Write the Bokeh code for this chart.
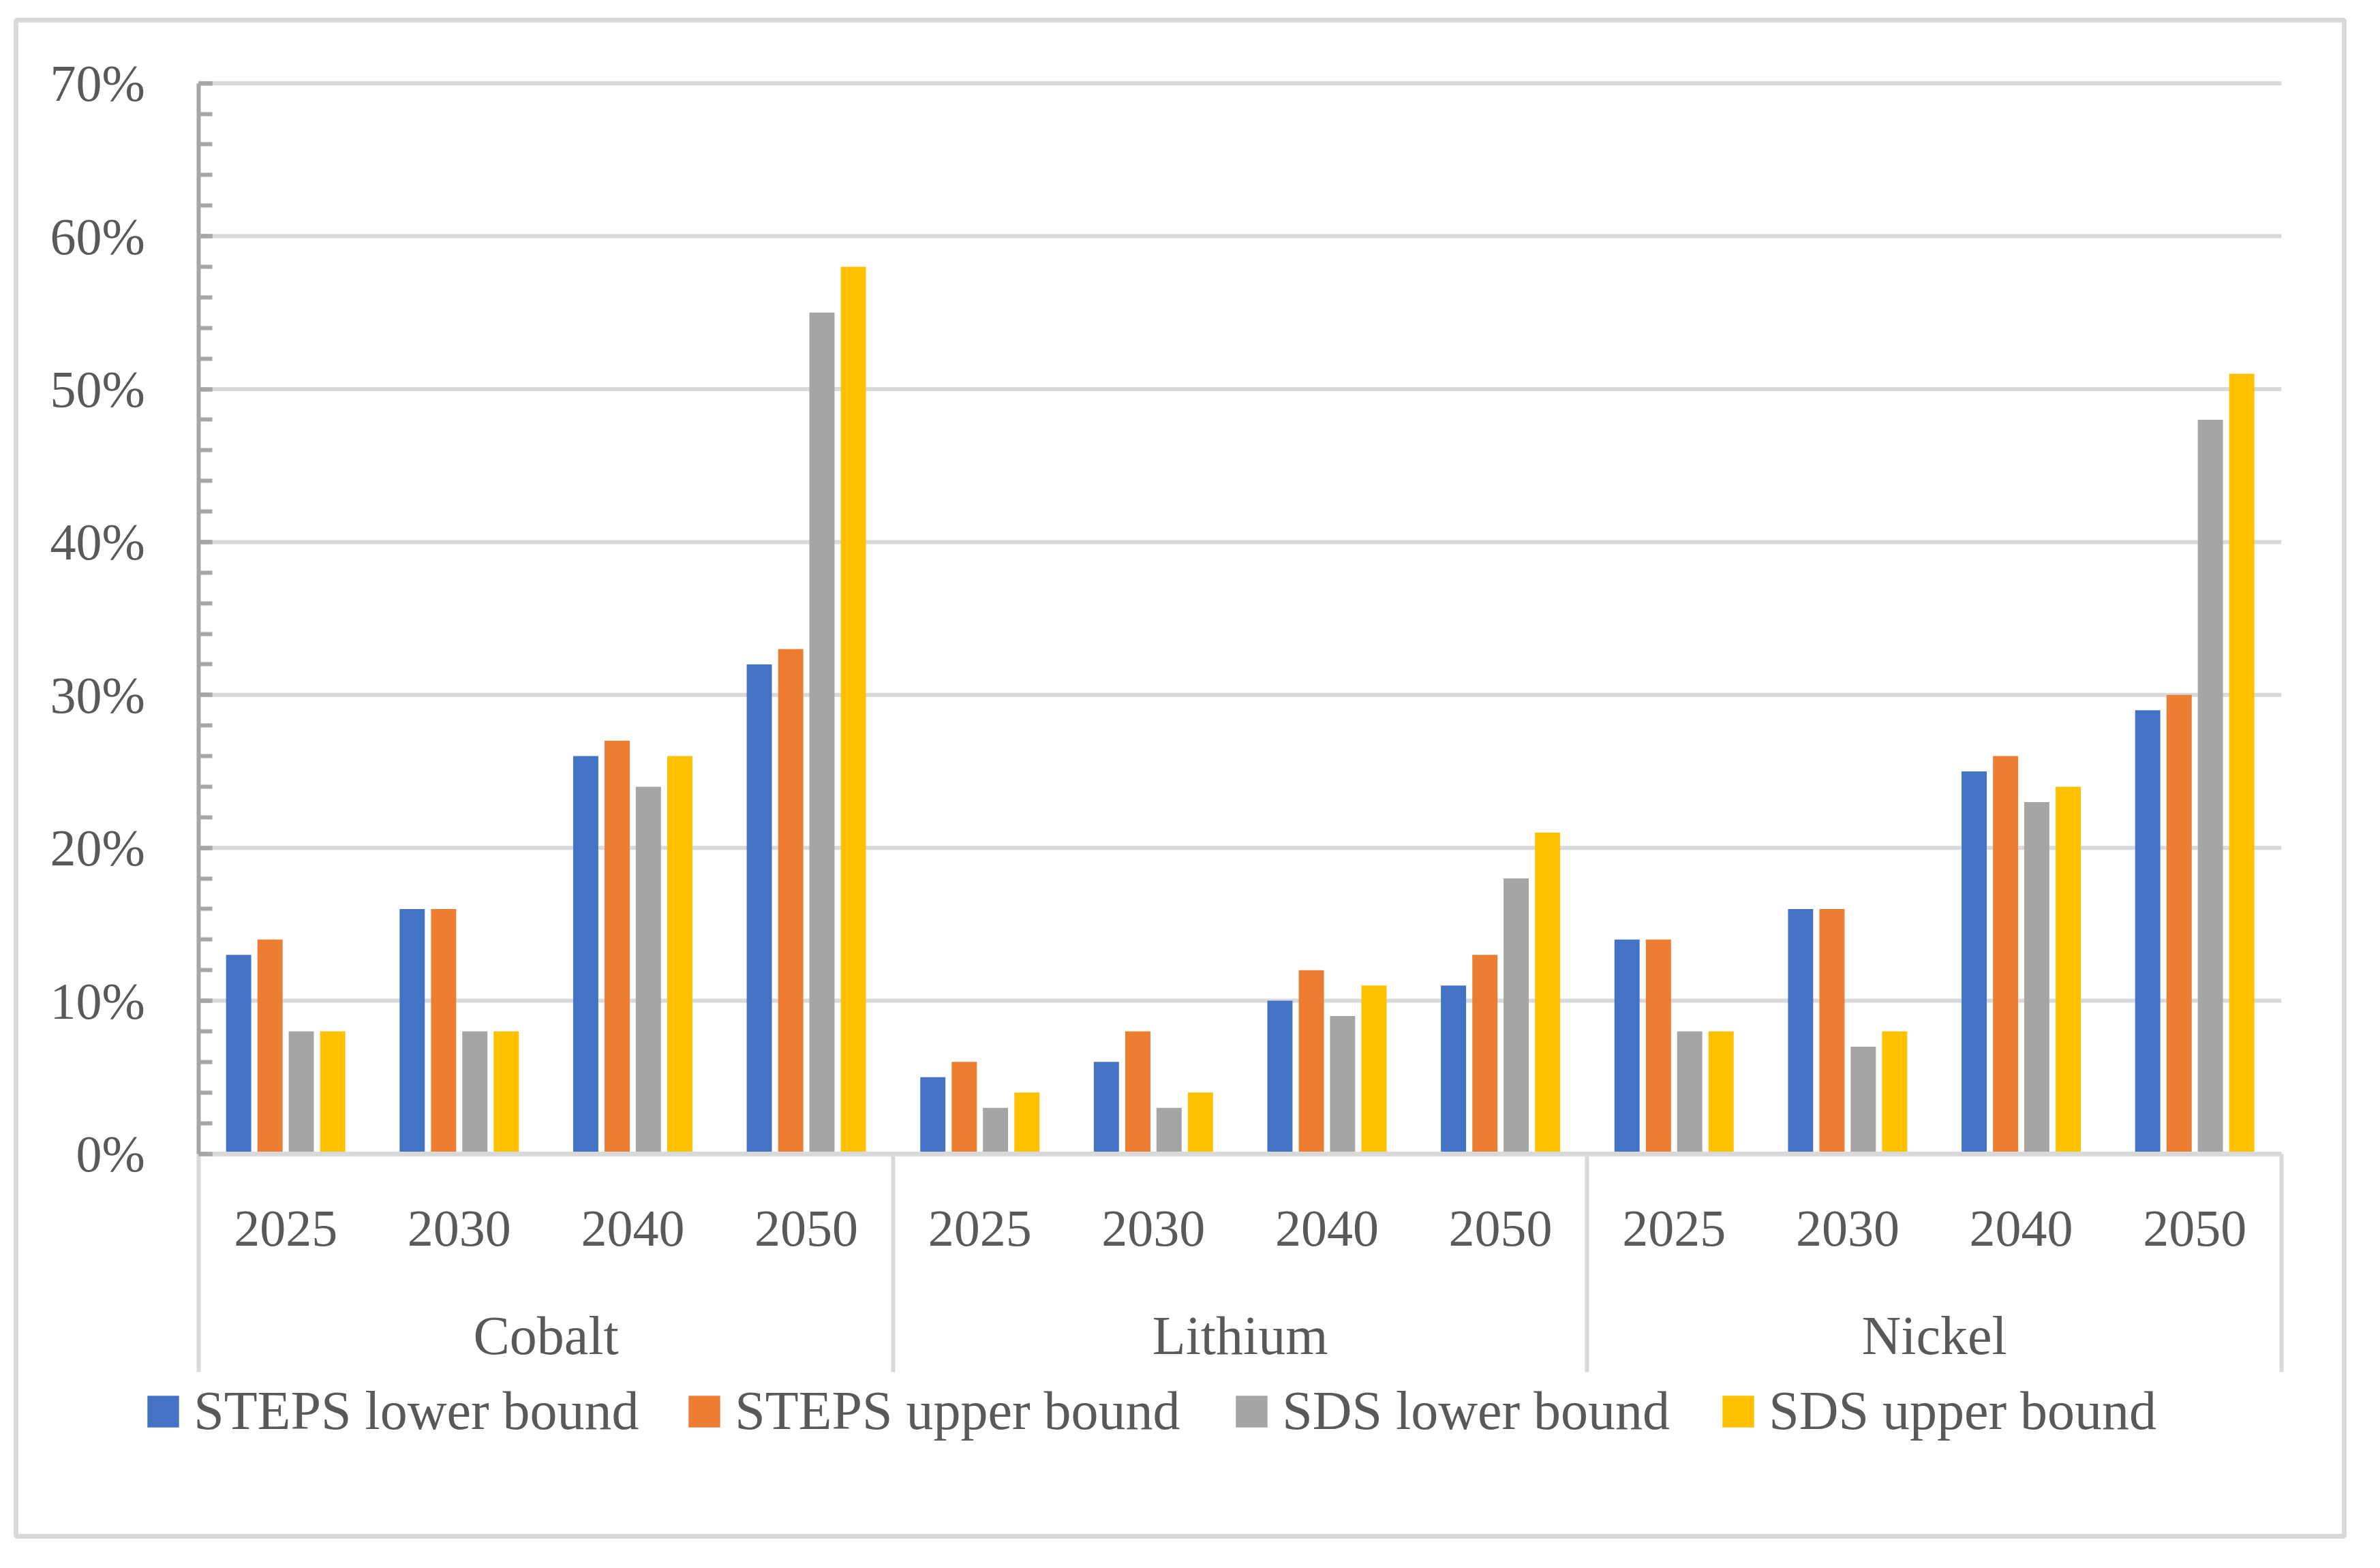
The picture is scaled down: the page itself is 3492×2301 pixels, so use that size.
import numpy as np
from bokeh.plotting import figure
from bokeh.models import (Range1d, LinearAxis, FixedTicker, Legend, LegendItem,
                          ColumnDataSource, PrintfTickFormatter)
from bokeh.embed import file_html
from bokeh.resources import INLINE

# ---------------- data ----------------
groups = ["Cobalt", "Lithium", "Nickel"]
years = ["2025", "2030", "2040", "2050"]
series_names = ["STEPS lower bound", "STEPS upper bound", "SDS lower bound", "SDS upper bound"]
steps_lower = [13, 16, 26, 32, 5, 6, 10, 11, 14, 16, 25, 29]
steps_upper = [14, 16, 27, 33, 6, 8, 12, 13, 14, 16, 26, 30]
sds_lower = [8, 8, 24, 55, 3, 3, 9, 18, 8, 7, 23, 48]
sds_upper = [8, 8, 26, 58, 4, 4, 11, 21, 8, 8, 24, 51]
y_ticks = [0, 10, 20, 30, 40, 50, 60, 70]

# ---------------- style ----------------
colors = ["#4472C4", "#ED7D31", "#A5A5A5", "#FFC000"]
FONT = "Liberation Serif"
TEXT = "#595959"
LIGHT = "#D9D9D9"
AXIS = "#A6A6A6"

n_years = len(years)
n_cat = len(groups) * n_years
centers = [i + 0.5 for i in range(n_cat)]
year_labels = years * len(groups)
group_centers = [g * n_years + n_years / 2 for g in range(len(groups))]
group_edges = [g * n_years for g in range(len(groups) + 1)]
offsets = [-0.271, -0.090, 0.090, 0.271]
bar_w = 0.145
y_max = y_ticks[-1]

p = figure(width=3476, height=2285, output_backend="svg", toolbar_location=None,
           x_range=Range1d(-1.0537, 12.3613), y_range=Range1d(-25.022, 74.131),
           x_axis_location=None, y_axis_location=None,
           min_border_left=23, min_border_right=37, min_border_top=29, min_border_bottom=31)
p.grid.visible = False
p.background_fill_color = "white"
p.border_fill_color = "white"
p.outline_line_color = LIGHT
p.outline_line_width = 7

# horizontal gridlines
gsrc = ColumnDataSource(dict(y=y_ticks[1:]))
p.segment(x0=0, x1=n_cat, y0="y", y1="y", source=gsrc, line_color=LIGHT, line_width=6)

# bars
renderers = []
for vals, off, col in zip([steps_lower, steps_upper, sds_lower, sds_upper], offsets, colors):
    src = ColumnDataSource(dict(x=[c + off for c in centers], top=vals))
    r = p.vbar(x="x", top="top", bottom=0, width=bar_w, source=src,
               fill_color=col, line_color=None)
    renderers.append(r)

# y axis
yaxis = LinearAxis(fixed_location=0, bounds=(0, y_max),
                   ticker=FixedTicker(ticks=y_ticks, minor_ticks=list(range(0, y_max + 1, 2))),
                   formatter=PrintfTickFormatter(format="%d%%"))
yaxis.axis_line_color = AXIS
yaxis.axis_line_width = 6
yaxis.major_tick_line_color = AXIS
yaxis.major_tick_line_width = 6
yaxis.minor_tick_line_color = AXIS
yaxis.minor_tick_line_width = 6
yaxis.major_tick_in = 20
yaxis.major_tick_out = 0
yaxis.minor_tick_in = 20
yaxis.minor_tick_out = 0
yaxis.major_label_standoff = 79
yaxis.major_label_text_font = FONT
yaxis.major_label_text_font_size = "76px"
yaxis.major_label_text_color = TEXT
p.add_layout(yaxis, "left")

# baseline with group separators (no labels)
sep_axis = LinearAxis(fixed_location=0, bounds=(0, n_cat),
                      ticker=FixedTicker(ticks=[], minor_ticks=[float(e) for e in group_edges]))
sep_axis.axis_line_color = LIGHT
sep_axis.axis_line_width = 7
sep_axis.major_tick_line_color = None
sep_axis.minor_tick_line_color = LIGHT
sep_axis.minor_tick_line_width = 6
sep_axis.minor_tick_in = 0
sep_axis.minor_tick_out = 320
p.add_layout(sep_axis, "below")

# year labels axis
year_axis = LinearAxis(fixed_location=0, ticker=FixedTicker(ticks=centers),
                       major_label_overrides={float(c): y for c, y in zip(centers, year_labels)})
year_axis.axis_line_color = None
year_axis.major_tick_line_color = None
year_axis.minor_tick_line_color = None
year_axis.major_tick_in = 0
year_axis.major_tick_out = 0
year_axis.major_label_standoff = 85
year_axis.major_label_text_font = FONT
year_axis.major_label_text_font_size = "76px"
year_axis.major_label_text_color = TEXT
p.add_layout(year_axis, "below")

# group labels axis
group_axis = LinearAxis(fixed_location=0,
                        ticker=FixedTicker(ticks=[float(g) for g in group_centers]),
                        major_label_overrides={float(c): g for c, g in zip(group_centers, groups)})
group_axis.axis_line_color = None
group_axis.major_tick_line_color = None
group_axis.minor_tick_line_color = None
group_axis.major_tick_in = 0
group_axis.major_tick_out = 0
group_axis.major_label_standoff = 223
group_axis.major_label_text_font = FONT
group_axis.major_label_text_font_size = "80px"
group_axis.major_label_text_color = TEXT
p.add_layout(group_axis, "below")

# legends (one per series, placed individually)
legend_x = [187.2, 981.2, 1784.2, 2498.2]
for r, name, lx in zip(renderers, series_names, legend_x):
    lg = Legend(items=[LegendItem(label=name, renderers=[r])], location=(lx, 138),
                orientation="horizontal", glyph_width=58, glyph_height=58,
                label_standoff=16, padding=0, margin=0, border_line_color=None,
                background_fill_alpha=0, label_text_font=FONT,
                label_text_font_size="80px", label_text_color=TEXT)
    p.add_layout(lg)

open("out.html", "w").write(file_html(p, INLINE))
